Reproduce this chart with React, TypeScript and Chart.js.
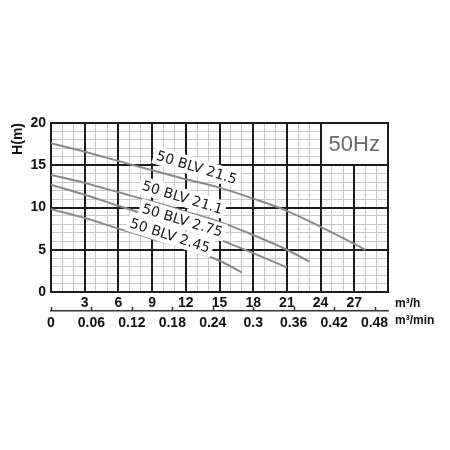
import { useEffect, useRef } from 'react';
import { Chart, registerables } from 'chart.js';

Chart.register(...registerables);

// Axis ranges
const flowMax = 30; // m³/h
const headMax = 20; // m
const flowMinMax = 0.5; // m³/min (30 m³/h)

// Pump curves (Q in m³/h, H in m)
const flow215 = [0, 3, 6, 9, 12, 15, 18, 21, 24, 27, 28];
const head215 = [17.6, 16.6, 15.5, 14.4, 13.35, 12.35, 11.05, 9.6, 7.7, 5.7, 5.0];
const flow211 = [0, 3, 6, 9, 12, 15, 18, 21, 23];
const head211 = [13.85, 12.9, 11.8, 10.7, 9.5, 8.3, 6.75, 5.0, 3.6];
const flow275 = [0, 3, 6, 9, 12, 15, 18, 21];
const head275 = [12.7, 11.5, 10.2, 8.9, 7.6, 6.2, 4.6, 2.9];
const flow245 = [0, 3, 6, 9, 12, 15, 17];
const head245 = [9.8, 8.75, 7.5, 6.3, 5.1, 3.7, 2.3];

// Curve labels (anchored in data units)
const seriesNames = ['50 BLV 21.5', '50 BLV 21.1', '50 BLV 2.75', '50 BLV 2.45'];
const labelFlow = [12.97, 11.7, 11.7, 10.6];
const labelHead = [14.75, 11.2, 8.5, 6.7];
const labelAngle = [17, 17, 17, 18];

// Frequency box
const freqText = '50Hz';
const freqBoxFlow = [24, 30];
const freqBoxHead = [15, 20];

const xUnit = 'm³/h';
const x2Unit = 'm³/min';
const yTitle = 'H(m)';

const TICK_FONT = { family: "'Liberation Sans', Arial, sans-serif", size: 14, weight: 'bold' as const };
const MINOR = '#c9c9c9';
const MAJOR = '#1c1c1c';
const CURVE = '#8a8a8a';

const toPoints = (xs: number[], ys: number[]) => xs.map((v, i) => ({ x: v, y: ys[i] }));

const overlay = {
  id: 'overlay',
  beforeDatasetsDraw(chart: any) {
    const { ctx, chartArea: a, scales } = chart;
    const x = scales.x;
    const y = scales.y;
    ctx.save();
    ctx.strokeStyle = MAJOR;
    ctx.lineWidth = 2;
    ctx.beginPath();
    x.ticks.forEach((t: any) => {
      if (t.value % 3 === 0 && t.value > 0 && t.value < flowMax) {
        const px = Math.round(x.getPixelForValue(t.value));
        ctx.moveTo(px, a.top);
        ctx.lineTo(px, a.bottom);
      }
    });
    y.ticks.forEach((t: any) => {
      if (t.value % 5 === 0 && t.value > 0 && t.value < headMax) {
        const py = Math.round(y.getPixelForValue(t.value));
        ctx.moveTo(a.left, py);
        ctx.lineTo(a.right, py);
      }
    });
    ctx.stroke();
    ctx.strokeRect(a.left, a.top, a.right - a.left, a.bottom - a.top);

    // 50Hz box
    const bx0 = x.getPixelForValue(freqBoxFlow[0]);
    const bx1 = x.getPixelForValue(freqBoxFlow[1]);
    const by0 = y.getPixelForValue(freqBoxHead[1]);
    const by1 = y.getPixelForValue(freqBoxHead[0]);
    ctx.fillStyle = '#ffffff';
    ctx.fillRect(bx0, by0, bx1 - bx0, by1 - by0);
    ctx.strokeRect(Math.round(bx0), by0, bx1 - Math.round(bx0), Math.round(by1) - by0);
    ctx.fillStyle = '#6a6a6a';
    ctx.font = "22px 'Liberation Sans Narrow', 'Liberation Sans', Arial, sans-serif";
    ctx.textAlign = 'center';
    ctx.textBaseline = 'middle';
    ctx.fillText(freqText, (bx0 + bx1) / 2, (by0 + by1) / 2 + 1);
    ctx.restore();
  },
  afterDatasetsDraw(chart: any) {
    const { ctx, scales } = chart;
    const x = scales.x;
    const y = scales.y;
    ctx.save();
    ctx.font = "14px 'DejaVu Sans', sans-serif";
    ctx.textAlign = 'center';
    ctx.textBaseline = 'middle';
    seriesNames.forEach((name, i) => {
      const px = x.getPixelForValue(labelFlow[i]);
      const py = y.getPixelForValue(labelHead[i]);
      ctx.save();
      ctx.translate(px, py);
      ctx.rotate((labelAngle[i] * Math.PI) / 180);
      const w = ctx.measureText(name).width;
      ctx.fillStyle = '#ffffff';
      ctx.fillRect(-w / 2 - 3, -9, w + 6, 18);
      ctx.fillStyle = '#1a1a1a';
      ctx.fillText(name, 0, 1);
      ctx.restore();
    });
    ctx.restore();
  },
  afterDraw(chart: any) {
    const { ctx, chartArea: a, scales } = chart;
    const x = scales.x;
    const x2 = scales.x2;
    ctx.save();
    // upward tick marks on the m³/min axis
    ctx.strokeStyle = '#333';
    ctx.lineWidth = 1.5;
    ctx.beginPath();
    x2.ticks.forEach((t: any) => {
      const px = Math.round(x2.getPixelForValue(t.value)) + 0.5;
      ctx.moveTo(px, x2.top);
      ctx.lineTo(px, x2.top - 4);
    });
    ctx.stroke();
    // unit labels
    ctx.fillStyle = '#111';
    ctx.font = "bold 12px 'Liberation Sans', Arial, sans-serif";
    ctx.textAlign = 'left';
    ctx.textBaseline = 'middle';
    ctx.fillText(xUnit, a.right + 7, x.top + 12);
    ctx.fillText(x2Unit, a.right + 7, x2.top + 10);
    ctx.restore();
  },
};

export default function App() {
  const ref = useRef<HTMLCanvasElement | null>(null);

  useEffect(() => {
    if (!ref.current) return;
    const mk = (xs: number[], ys: number[]) => ({
      data: toPoints(xs, ys),
      borderColor: CURVE,
      borderWidth: 2,
      pointRadius: 0,
      fill: false,
      cubicInterpolationMode: 'monotone' as const,
    });
    const chart = new Chart(ref.current, {
      type: 'line',
      data: {
        datasets: [mk(flow215, head215), mk(flow211, head211), mk(flow275, head275), mk(flow245, head245)],
      },
      options: {
        animation: false,
        responsive: false,
        events: [],
        layout: { padding: { top: 123, right: 62, bottom: 119, left: 0 } },
        plugins: { legend: { display: false }, tooltip: { enabled: false } },
        scales: {
          x: {
            type: 'linear',
            position: 'bottom',
            weight: 0,
            min: 0,
            max: flowMax,
            grid: {
              color: (c: any) => (c.tick && c.tick.value % 3 !== 0 ? MINOR : 'rgba(0,0,0,0)'),
              lineWidth: 1,
              drawTicks: false,
            },
            border: { display: false },
            ticks: {
              stepSize: 1,
              autoSkip: false,
              maxRotation: 0,
              padding: 3,
              color: '#111',
              font: TICK_FONT,
              callback: (v: any) => (v % 3 === 0 && v > 0 && v < flowMax ? String(v) : ''),
            },
            afterFit: (s: any) => {
              s.height = 19;
            },
          },
          x2: {
            type: 'linear',
            position: 'bottom',
            weight: 1,
            min: 0,
            max: flowMinMax,
            grid: { drawOnChartArea: false, drawTicks: false },
            border: { display: true, color: '#333', width: 1.5 },
            ticks: {
              stepSize: 0.06,
              includeBounds: false,
              autoSkip: false,
              maxRotation: 0,
              padding: 4,
              color: '#111',
              font: TICK_FONT,
              callback: (v: any) => String(Number(Number(v).toFixed(2))),
            },
            afterBuildTicks: (s: any) => {
              s.ticks = s.ticks.filter((t: any) => t.value < 0.49);
            },
            afterFit: (s: any) => {
              s.height = 20;
            },
          },
          y: {
            type: 'linear',
            position: 'left',
            min: 0,
            max: headMax,
            grid: {
              color: (c: any) => (c.tick && c.tick.value % 5 !== 0 ? MINOR : 'rgba(0,0,0,0)'),
              lineWidth: 1,
              drawTicks: false,
            },
            border: { display: false },
            ticks: {
              stepSize: 1,
              autoSkip: false,
              padding: 5,
              color: '#111',
              font: TICK_FONT,
              callback: (v: any) => (v % 5 === 0 ? String(v) : ''),
            },
            title: {
              display: true,
              text: yTitle,
              align: 'end',
              color: '#111',
              font: TICK_FONT,
              padding: { top: 10, bottom: 0 },
            },
            afterFit: (s: any) => {
              s.width = 51;
            },
          },
        },
      } as any,
      plugins: [overlay],
    });
    return () => chart.destroy();
  }, []);

  return (
    <div style={{ position: 'fixed', left: 0, top: 0, width: 450, height: 450, background: '#fff' }}>
      <canvas ref={ref} width={450} height={450} />
    </div>
  );
}
